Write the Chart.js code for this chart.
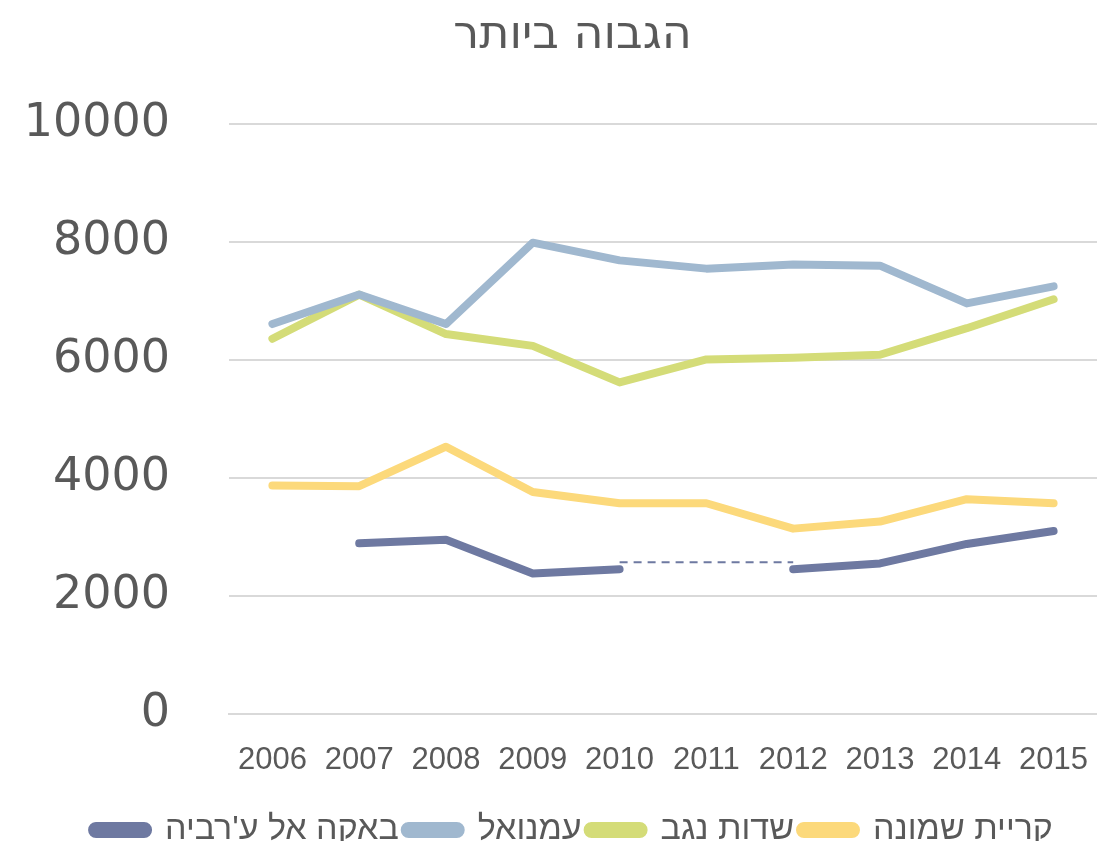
<!DOCTYPE html>
<html>
<head>
<meta charset="utf-8">
<script src="https://cdn.jsdelivr.net/npm/chart.js@4/dist/chart.umd.min.js"></script>
<style>
  html, body { margin: 0; padding: 0; background: #fff; }
  #wrap { width: 1097px; height: 841px; }
</style>
</head>
<body>
<div id="wrap"><canvas id="chart"></canvas></div>
<script>
// years on the x axis
const years = ["2006", "2007", "2008", "2009", "2010", "2011", "2012", "2013", "2014", "2015"];

// series values
const baqa = [null, 2890, 2950, 2380, 2450, null, 2450, 2550, 2880, 3100];
const emanuel = [6610, 7110, 6610, 7990, 7690, 7550, 7620, 7600, 6960, 7250];
const sdotNegev = [6360, 7110, 6440, 6240, 5620, 6010, 6040, 6090, 6540, 7030];
const kiryatShmona = [3870, 3860, 4530, 3760, 3570, 3570, 3140, 3260, 3640, 3570];
// thin dashed link across the missing 2011 value
const baqaGap = [null, null, null, null, 2570, null, 2570, null, null, null];

const seriesNames = ["באקה אל ע'רביה", "עמנואל", "שדות נגב", "קריית שמונה"];
const yTicks = [0, 2000, 4000, 6000, 8000, 10000];

const colors = {
  baqa: "#6E79A1",
  emanuel: "#A0B8CF",
  sdot: "#D4DC78",
  kiryat: "#FCD97B",
};
const textColor = "#595959";

function lineSet(label, data, color) {
  return {
    label,
    data,
    borderColor: color,
    backgroundColor: color,
    borderWidth: 8,
    borderCapStyle: "round",
    borderJoinStyle: "round",
    pointRadius: 0,
    tension: 0,
    spanGaps: false,
  };
}

// the y labels sit left of the layout padding, so widen their clip box
const unclipY = {
  id: "unclipY",
  afterLayout(chart) { chart.scales.y.left = 0; },
};

new Chart(document.getElementById("chart"), {
  type: "line",
  data: {
    labels: years,
    datasets: [
      lineSet(seriesNames[0], baqa, colors.baqa),
      lineSet(seriesNames[1], emanuel, colors.emanuel),
      lineSet(seriesNames[2], sdotNegev, colors.sdot),
      lineSet(seriesNames[3], kiryatShmona, colors.kiryat),
      {
        label: "gap",
        data: baqaGap,
        borderColor: colors.baqa,
        borderWidth: 2,
        borderDash: [8, 6],
        pointRadius: 0,
        spanGaps: true,
      },
    ],
  },
  options: {
    responsive: true,
    maintainAspectRatio: false,
    animation: false,
    layout: { padding: { top: 8, left: 48, right: 0, bottom: -16 } },
    plugins: {
      title: {
        display: true,
        text: "הגבוה ביותר",
        color: textColor,
        font: { family: "'DejaVu Sans', sans-serif", size: 46, weight: "normal" },
        padding: { top: 0, bottom: 61 },
      },
      legend: {
        position: "bottom",
        labels: {
          color: textColor,
          font: { family: "'Liberation Sans Narrow', 'Liberation Sans', sans-serif", size: 34 },
          boxWidth: 56,
          boxHeight: 8,
          useBorderRadius: true,
          borderRadius: 4,
          padding: 6,
          filter: (item) => item.text !== "gap",
        },
      },
      tooltip: { enabled: false },
    },
    scales: {
      x: {
        offset: true,
        grid: { display: false, drawTicks: false },
        border: { color: "#D9D9D9", width: 2 },
        ticks: {
          color: textColor,
          font: { family: "'Liberation Sans', Arial, sans-serif", size: 31, lineHeight: 0.75 },
          padding: 35,
          maxRotation: 0,
        },
        afterFit: (axis) => { axis.paddingLeft = 0; axis.paddingRight = 0; },
      },
      y: {
        min: 0,
        max: 10000,
        afterBuildTicks: (axis) => { axis.ticks = yTicks.map(v => ({ value: v })); },
        afterFit: (axis) => { axis.width = 181; },
        grid: { color: "#D9D9D9", lineWidth: 2, drawTicks: false },
        border: { display: false },
        ticks: {
          color: textColor,
          font: { family: "'DejaVu Sans', sans-serif", size: 46 },
          padding: 59,
          callback: (v) => String(v),
        },
      },
    },
  },
  plugins: [unclipY],
});
</script>
</body>
</html>
